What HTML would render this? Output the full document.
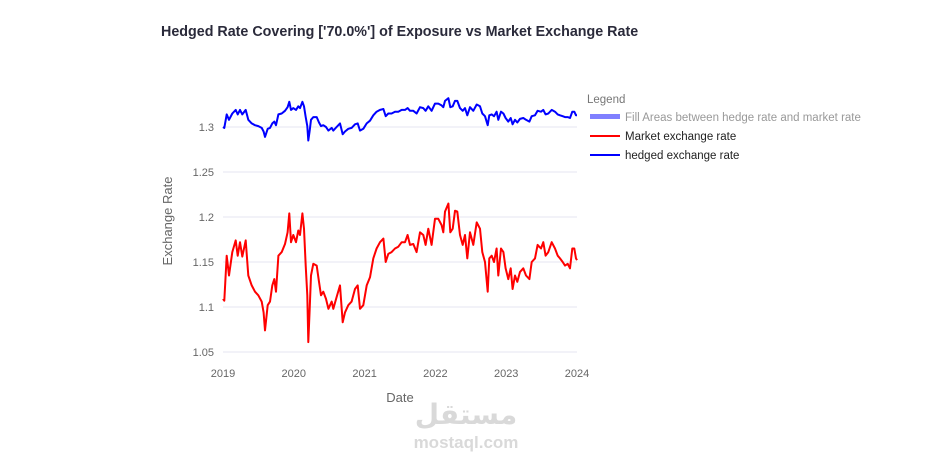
<!DOCTYPE html>
<html><head><meta charset="utf-8"><style>
body{margin:0;background:#fff;font-family:"Liberation Sans","Noto Sans CJK SC",sans-serif}
svg{display:block}
</style></head><body>
<svg id="chart" width="934" height="464" viewBox="0 0 934 464">
<text x="161" y="36" font-size="14.3" font-weight="bold" fill="#2a2a3a">Hedged Rate Covering ['70.0%'] of Exposure vs Market Exchange Rate</text>
<g id="grid"></g>
<g id="yticks"></g>
<g id="xticks"></g>
<g id="series"></g>
<text x="172" y="221" font-size="13" fill="#666" text-anchor="middle" transform="rotate(-90 172 221)">Exchange Rate</text>
<text x="400" y="402" font-size="13" fill="#666" text-anchor="middle">Date</text>
<g>
<text x="587" y="103" font-size="11.5" fill="#777">Legend</text>
<g><rect x="590" y="114" width="30" height="5" fill="#8080ff"/><text x="625" y="121" font-size="11.5" fill="#999">Fill Areas between hedge rate and market rate</text></g>
<g><line x1="590" y1="136" x2="620" y2="136" stroke="#ff0000" stroke-width="2"/><text x="625" y="140" font-size="11.5" fill="#222">Market exchange rate</text></g>
<g><line x1="590" y1="155" x2="620" y2="155" stroke="#0000ff" stroke-width="2"/><text x="625" y="159" font-size="11.5" fill="#222">hedged exchange rate</text></g>
</g>
<g fill="#d9d9d9" text-anchor="middle">
<text x="466" y="424" font-size="28" font-weight="bold" font-family="DejaVu Sans, sans-serif">مستقل</text>
<text x="466" y="448" font-size="17" font-weight="bold">mostaql.com</text>
</g>
</svg>
<script>
const dates=[0,.019,.052,.085,.132,.179,.207,.240,.273,.320,.358,.405,.452,.499,.546,.574,.593,.631,.664,.697,.725,.749,.782,.829,.876,.913,.937,.960,.993,1.031,1.064,1.088,1.121,1.144,1.168,1.191,1.205,1.224,1.243,1.276,1.323,1.356,1.384,1.417,1.455,1.488,1.535,1.558,1.605,1.653,1.690,1.723,1.770,1.817,1.864,1.902,1.935,1.982,2.029,2.076,2.123,2.170,2.218,2.265,2.298,2.335,2.382,2.429,2.476,2.524,2.571,2.608,2.641,2.688,2.735,2.782,2.829,2.862,2.900,2.947,2.994,3.041,3.088,3.112,3.136,3.183,3.211,3.244,3.277,3.310,3.347,3.385,3.418,3.451,3.489,3.536,3.583,3.630,3.663,3.701,3.738,3.762,3.795,3.828,3.865,3.889,3.927,3.960,3.992,4.030,4.063,4.091,4.124,4.157,4.195,4.242,4.280,4.327,4.360,4.407,4.444,4.492,4.524,4.557,4.595,4.642,4.689,4.727,4.760,4.798,4.831,4.868,4.901,4.934,4.962,4.986,5].map(d=>2019+d);
const market=[1.109,1.107,1.157,1.135,1.161,1.174,1.157,1.172,1.156,1.174,1.135,1.124,1.117,1.113,1.106,1.094,1.074,1.102,1.106,1.124,1.131,1.117,1.157,1.161,1.170,1.183,1.204,1.172,1.180,1.172,1.185,1.180,1.204,1.187,1.146,1.113,1.061,1.098,1.135,1.148,1.146,1.128,1.113,1.117,1.109,1.098,1.106,1.098,1.111,1.124,1.083,1.094,1.102,1.106,1.120,1.124,1.098,1.102,1.124,1.133,1.154,1.165,1.172,1.176,1.150,1.159,1.161,1.165,1.167,1.172,1.172,1.180,1.169,1.170,1.161,1.183,1.180,1.169,1.187,1.169,1.198,1.198,1.191,1.183,1.206,1.215,1.183,1.187,1.207,1.206,1.180,1.169,1.180,1.154,1.183,1.169,1.194,1.187,1.161,1.150,1.117,1.154,1.157,1.150,1.165,1.135,1.165,1.161,1.143,1.131,1.143,1.120,1.135,1.128,1.139,1.143,1.135,1.131,1.150,1.154,1.169,1.165,1.172,1.157,1.161,1.172,1.165,1.157,1.154,1.150,1.146,1.148,1.143,1.165,1.165,1.154,1.152];
const hedged=[1.300,1.299,1.314,1.308,1.315,1.319,1.314,1.319,1.314,1.319,1.308,1.304,1.302,1.301,1.299,1.295,1.289,1.298,1.299,1.304,1.306,1.302,1.314,1.315,1.318,1.322,1.328,1.319,1.321,1.319,1.323,1.321,1.328,1.323,1.311,1.301,1.285,1.296,1.308,1.311,1.311,1.305,1.301,1.302,1.300,1.296,1.299,1.296,1.300,1.304,1.292,1.295,1.298,1.299,1.303,1.304,1.296,1.298,1.304,1.307,1.313,1.317,1.319,1.320,1.312,1.315,1.315,1.317,1.317,1.319,1.319,1.321,1.318,1.318,1.315,1.322,1.321,1.318,1.323,1.318,1.326,1.326,1.324,1.322,1.329,1.332,1.322,1.323,1.329,1.329,1.321,1.318,1.321,1.313,1.322,1.318,1.325,1.323,1.315,1.312,1.302,1.313,1.314,1.312,1.317,1.308,1.317,1.315,1.310,1.306,1.310,1.303,1.308,1.305,1.309,1.310,1.308,1.306,1.312,1.313,1.318,1.317,1.319,1.314,1.315,1.319,1.317,1.314,1.313,1.312,1.311,1.311,1.310,1.317,1.317,1.313,1.313];
const yTicks=[1.05,1.1,1.15,1.2,1.25,1.3];
const xTicks=[2019,2020,2021,2022,2023,2024];
const NS="http://www.w3.org/2000/svg";
const X0=223,X1=577;
function xs(t){return X0+(t-2019)/5*(X1-X0);}
function ys(v){return 127+(1.3-v)*900;}
function mk(tag,attrs,parent){const e=document.createElementNS(NS,tag);for(const k in attrs)e.setAttribute(k,attrs[k]);parent.appendChild(e);return e;}
const grid=document.getElementById('grid'),yt=document.getElementById('yticks'),xt=document.getElementById('xticks'),ser=document.getElementById('series');
yTicks.forEach(v=>{
  const l=mk('line',{x1:X0,x2:X1,y1:ys(v),y2:ys(v),stroke:'#e6e6f0','stroke-width':1},grid);
  
  
  const t=mk('text',{x:214,y:ys(v)+4,'font-size':11,fill:'#666','text-anchor':'end'},yt);
  t.textContent=String(v);
  
  
});
xTicks.forEach(v=>{
  const t=mk('text',{x:xs(v),y:377,'font-size':11,fill:'#666','text-anchor':'middle'},xt);
  t.textContent=String(v);
  
  
});
function line(vals,color,name){
  const d=vals.map((v,i)=>(i?'L':'M')+xs(dates[i]).toFixed(1)+','+ys(v).toFixed(1)).join('');
  const p=mk('path',{d:d,fill:'none',stroke:color,'stroke-width':2,'stroke-linejoin':'round'},ser);
  
  
}
line(market,'#ff0000','market-rate-line');
line(hedged,'#0000ff','hedged-rate-line');
</script>
</body></html>
